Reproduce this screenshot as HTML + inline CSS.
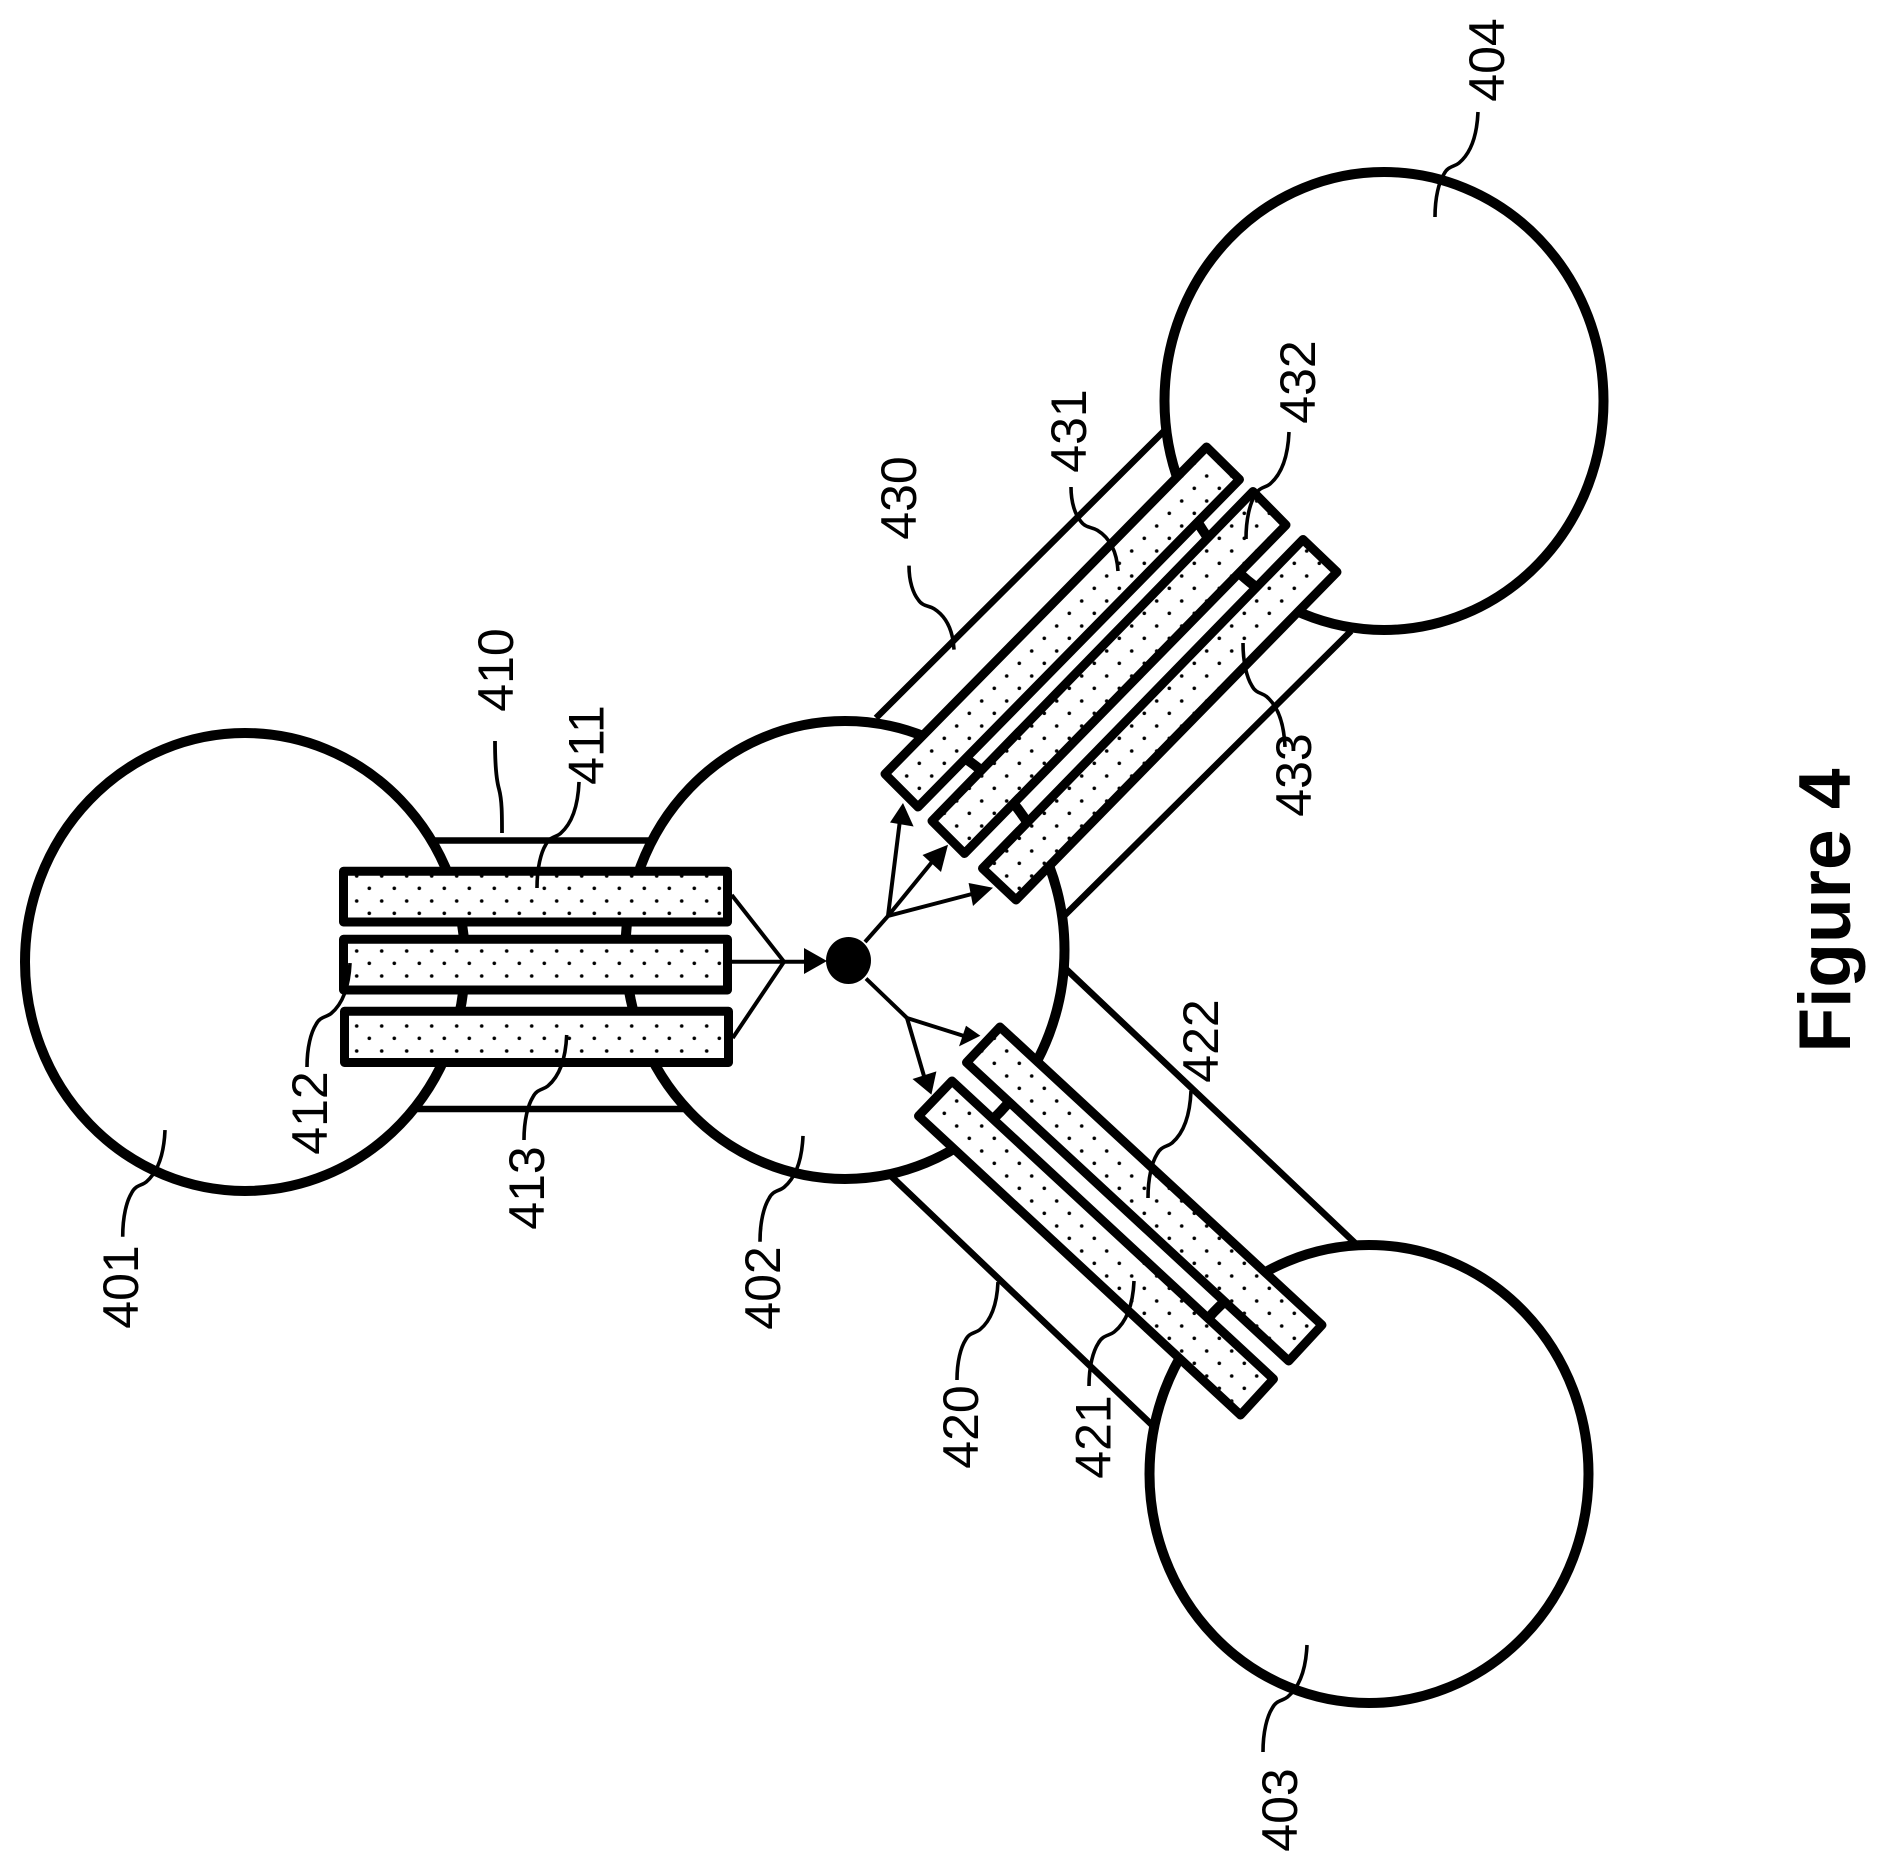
<!DOCTYPE html>
<html><head><meta charset="utf-8"><style>html,body{margin:0;padding:0;background:#fff}svg{display:block}text{font-family:"Liberation Sans",sans-serif;font-size:50px;fill:#000;text-anchor:middle}</style></head><body>
<svg xmlns="http://www.w3.org/2000/svg" width="1886" height="1870" viewBox="0 0 1886 1870">
<defs>
<pattern id="d" patternUnits="userSpaceOnUse" x="352.7" y="872" width="25" height="25"><circle cx="4" cy="4" r="1.8" fill="#000"/><circle cx="16.6" cy="16.3" r="1.8" fill="#000"/></pattern>
<path id="l" d="M0 0C0 -20 4 -35 9 -43C13 -51 19 -50 24 -54C36 -64 42 -82 43 -105" fill="none" stroke="#000" stroke-width="3.6" vector-effect="non-scaling-stroke"/>
</defs>
<rect width="1886" height="1870" fill="#fff"/>
<!-- connectors -->
<g stroke="#000" stroke-width="6.5" fill="none">
<line x1="430" y1="840.5" x2="650" y2="840.5"/>
<line x1="415" y1="1109" x2="685" y2="1109"/>
<line x1="876" y1="718" x2="1164" y2="431"/>
<line x1="1064" y1="916" x2="1351" y2="631"/>
<line x1="1066" y1="969" x2="1355" y2="1243"/>
<line x1="891" y1="1176" x2="1152" y2="1425"/>
</g>
<!-- circles -->
<g fill="#fff" stroke="#000" stroke-width="10">
<ellipse cx="245" cy="962" rx="220" ry="229"/>
<ellipse cx="845" cy="950" rx="219.5" ry="229"/>
<ellipse cx="1369" cy="1474" rx="219.5" ry="229"/>
<ellipse cx="1384" cy="401" rx="219.5" ry="229"/>
</g>
<!-- rectangles -->
<g stroke="#000" stroke-width="9" stroke-linejoin="round" fill="#fff">
<rect x="343.5" y="871.3" width="384" height="50.7"/>
<rect x="343.5" y="939.3" width="384" height="50.7"/>
<rect x="344.5" y="1011.3" width="384" height="51.2"/>
<polygon points="1206.5,447 1239.5,479.5 918,807 885,774"/>
<polygon points="1253,491.5 1286,525 964.5,853.5 932,821"/>
<polygon points="1303,539.5 1337,572 1016,900 982.5,868.4"/>
<polygon points="1000,1027 1322,1325 1288.7,1361 966.5,1062.5"/>
<polygon points="952,1081 1273.5,1379 1240.5,1415 918.5,1116"/>
</g>
<g fill="url(#d)">
<rect x="348" y="875.5" width="375" height="42.5"/>
<rect x="348" y="943.5" width="375" height="42.5"/>
<rect x="349" y="1015.5" width="375" height="43"/>
<polygon points="1206.5,453 1233.5,479.5 918,801 891,774"/>
<polygon points="1253,497.5 1280,525 964.5,847.5 938,821"/>
<polygon points="1303,545.5 1331,572 1016,894 988.5,868.4"/>
<polygon points="1000,1033 1316,1325 1288.7,1355 972.5,1062.5"/>
<polygon points="952,1087 1267.5,1379 1240.5,1409 924.5,1116"/>
</g>
<!-- arrows -->
<g stroke="#000" stroke-width="4" fill="none">
<line x1="731.7" y1="895" x2="784" y2="961.7"/>
<line x1="732.7" y1="1038" x2="784" y2="961.7"/>
<line x1="731.7" y1="961.7" x2="806" y2="961.7"/>
<line x1="865" y1="942" x2="888" y2="916"/>
<line x1="888" y1="916" x2="900" y2="820"/>
<line x1="888" y1="916" x2="932" y2="862"/>
<line x1="888" y1="916" x2="972" y2="894"/>
<line x1="866" y1="978.6" x2="907" y2="1018"/>
<line x1="907" y1="1018" x2="964" y2="1036"/>
<line x1="907" y1="1018" x2="924" y2="1076"/>
</g>
<polygon points="827,961 804,948 804,974" fill="#000"/>
<polygon points="903,803 890,822.5 913.6,826.5" fill="#000"/>
<polygon points="948,844.7 922.5,855 941,872" fill="#000"/>
<polygon points="993,887.7 968.6,883 973,906" fill="#000"/>
<polygon points="980.4,1035.7 966,1025.7 959,1046.4" fill="#000"/>
<polygon points="931.4,1094.6 912.5,1079 936.4,1071.4" fill="#000"/>
<ellipse cx="848.5" cy="960.5" rx="22.5" ry="23.5" fill="#000"/>
<!-- leaders -->
<path d="M495 741C495 770 497 782 499 789C502 800 502 815 502 833" fill="none" stroke="#000" stroke-width="3.8"/>
<use href="#l" transform="translate(122.7,1236.7) scale(.984,1.016)"/>
<use href="#l" transform="translate(760,1241.7) scale(1,1.007)"/>
<use href="#l" transform="translate(1263,1752) scale(1.023,1.019)"/>
<use href="#l" transform="translate(1435,217) scale(1,1)"/>
<use href="#l" transform="translate(307,1067) scale(1,.99)"/>
<use href="#l" transform="translate(524,1140) scale(.993,1)"/>
<use href="#l" transform="translate(537,888) scale(.977,1.01)"/>
<use href="#l" transform="translate(957,1380) scale(.953,.933)"/>
<use href="#l" transform="translate(1089,1386) scale(1.047,1)"/>
<use href="#l" transform="translate(1148,1198) scale(1,1.019)"/>
<use href="#l" transform="translate(909,565.6) scale(1.047,-.8)"/>
<use href="#l" transform="translate(1071,487) scale(1.093,-.8)"/>
<use href="#l" transform="translate(1243,643) scale(.977,-.99)"/>
<use href="#l" transform="translate(1246,539) scale(1,1.019)"/>
<!-- labels -->
<text transform="translate(138,1287) rotate(-90)">401</text>
<text transform="translate(780,1288) rotate(-90)">402</text>
<text transform="translate(1297,1810) rotate(-90)">403</text>
<text transform="translate(1504,60) rotate(-90)">404</text>
<text transform="translate(513,670) rotate(-90)">410</text>
<text transform="translate(603.5,745) rotate(-90)">411</text>
<text transform="translate(327,1113) rotate(-90)">412</text>
<text transform="translate(544,1188) rotate(-90)">413</text>
<text transform="translate(978,1427) rotate(-90)">420</text>
<text transform="translate(1110.7,1437) rotate(-90)">421</text>
<text transform="translate(1218,1041) rotate(-90)">422</text>
<text transform="translate(916,498) rotate(-90)">430</text>
<text transform="translate(1086,431) rotate(-90)">431</text>
<text transform="translate(1315,382) rotate(-90)">432</text>
<text transform="translate(1311,775) rotate(-90)">433</text>
<text transform="translate(1850,910.5) rotate(-90)" style="font-size:73px;font-weight:bold">Figure 4</text>
</svg>
</body></html>
